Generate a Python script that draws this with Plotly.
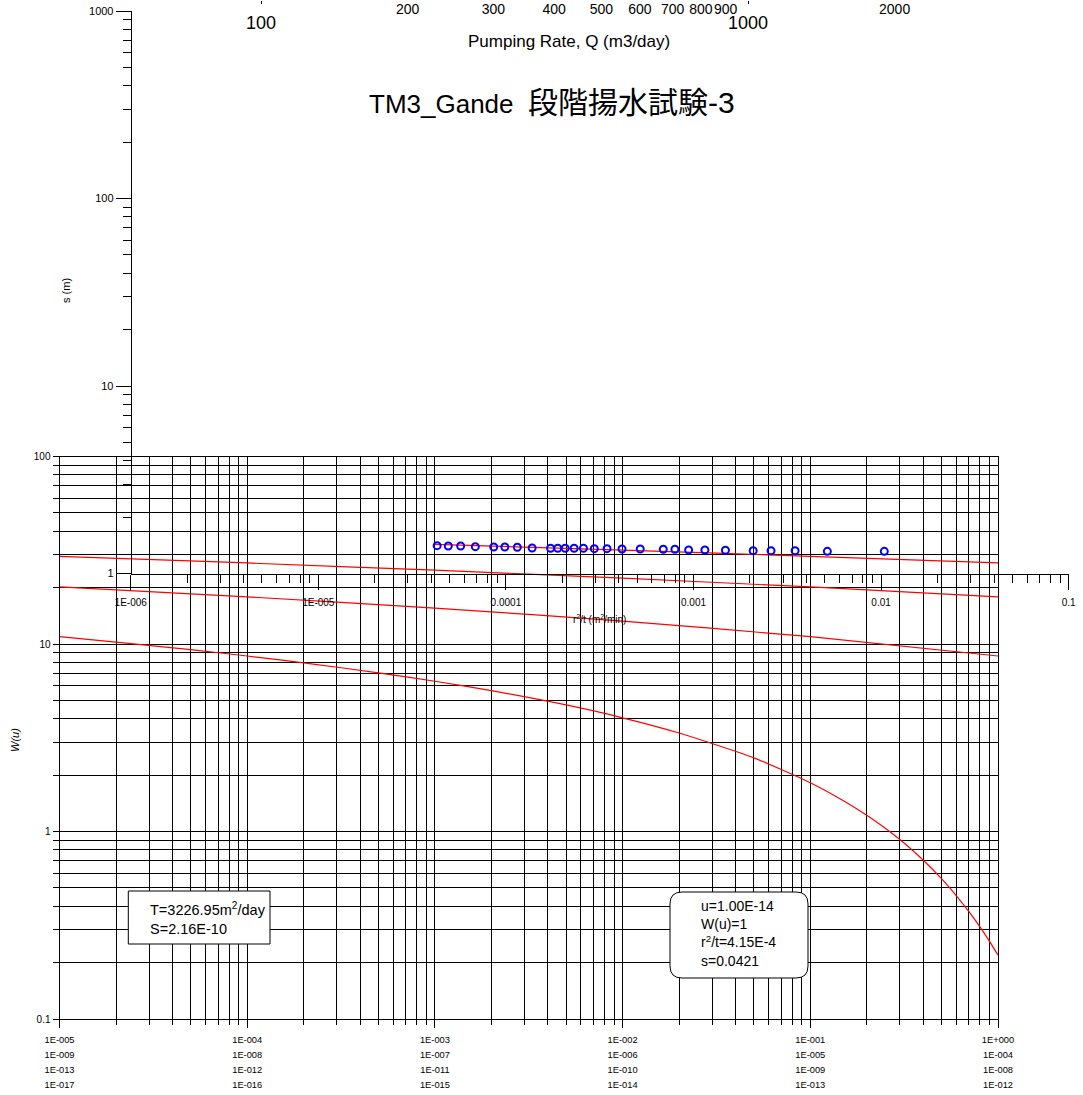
import plotly.graph_objects as go

W_PX, H_PX = 1083, 1095


def PX(p):
    return p / W_PX


def PY(p):
    return 1 - p / H_PX


# ---------------- data ----------------
# observed data: r^2/t (m^2/min) and drawdown s (m)
r2t = [4.30e-5, 4.93e-5, 5.74e-5, 6.87e-5, 8.61e-5, 9.87e-5, 1.15e-4, 1.38e-4,
       1.73e-4, 1.89e-4, 2.07e-4, 2.31e-4, 2.59e-4, 2.96e-4, 3.46e-4, 4.16e-4,
       5.20e-4, 6.90e-4, 7.96e-4, 9.42e-4, 1.15e-3, 1.48e-3, 2.08e-3, 2.59e-3,
       3.48e-3, 5.17e-3, 1.04e-2]
s_m = [1.407, 1.402, 1.402, 1.390, 1.385, 1.385, 1.380, 1.368, 1.363, 1.363,
       1.363, 1.363, 1.363, 1.357, 1.357, 1.351, 1.351, 1.346, 1.346, 1.335,
       1.335, 1.330, 1.323, 1.323, 1.323, 1.313, 1.313]

# type curve (lowest row of u labels: 1E-005 ... 1E+000)
u_curve1 = [1e-5, 2e-5, 5e-5, 1e-4, 2e-4, 5e-4, 1e-3, 2e-3, 5e-3, 1e-2, 2e-2,
            5e-2, 0.1, 0.15, 0.2, 0.3, 0.4, 0.5, 0.6, 0.7, 0.8, 0.9, 1.0]
W_curve1 = [10.94, 10.24, 9.33, 8.63, 7.94, 7.02, 6.33, 5.64, 4.73, 4.04, 3.35,
            2.47, 1.82, 1.46, 1.22, 0.906, 0.702, 0.560, 0.454, 0.374, 0.311,
            0.260, 0.219]
u_dec = [1e-5, 1e-4, 1e-3, 1e-2, 1e-1, 1.0]
W_curve2 = [20.15, 17.84, 15.54, 13.24, 10.94, 8.63]
W_curve3 = [29.36, 27.05, 24.75, 22.45, 20.15, 17.84]
u_curve4 = [1e-3, 1e-2, 1e-1, 1.0]
W_curve4 = [33.96, 31.66, 29.36, 27.05]

# tick labels
u_ticks = [1e-5, 1e-4, 1e-3, 1e-2, 1e-1, 1.0]
u_row1 = ["1E-005", "1E-004", "1E-003", "1E-002", "1E-001", "1E+000"]
u_row2 = ["1E-009", "1E-008", "1E-007", "1E-006", "1E-005", "1E-004"]
u_row3 = ["1E-013", "1E-012", "1E-011", "1E-010", "1E-009", "1E-008"]
u_row4 = ["1E-017", "1E-016", "1E-015", "1E-014", "1E-013", "1E-012"]
W_ticks = [0.1, 1, 10, 100]
W_ticktext = ["0.1", "1", "10", "100"]
r2t_ticks = [1e-6, 1e-5, 1e-4, 1e-3, 1e-2, 1e-1]
r2t_ticktext = ["1E-006", "1E-005", "0.0001", "0.001", "0.01", "0.1"]
s_ticks = [1, 10, 100, 1000]
s_ticktext = ["1", "10", "100", "1000"]
Q_minor_ticks = [200, 300, 400, 500, 600, 700, 800, 900, 2000]
Q_major_ticks = [100, 1000]

# fitted parameters
T_val = "3226.95"
S_val = "2.16E-10"
match_u = "1.00E-14"
match_W = "1"
match_r2t = "4.15E-4"
match_s = "0.0421"

title_latin = "TM3_Gande"
title_cjk = "段階揚水試験-3"

FONT = "Liberation Sans, Arial, Noto Sans CJK JP, sans-serif"


def minor_vals(lo_exp, hi_exp):
    return [m * 10 ** e for e in range(lo_exp, hi_exp) for m in range(2, 10)]


fig = go.Figure()

red = dict(color="#ff0000", width=1.2, shape="spline", smoothing=0.6)
for xs, ys in [(u_curve1, W_curve1), (u_dec, W_curve2), (u_dec, W_curve3),
               (u_curve4, W_curve4)]:
    fig.add_trace(go.Scatter(x=xs, y=ys, mode="lines", line=red,
                             xaxis="x", yaxis="y", showlegend=False,
                             hoverinfo="skip"))

# empty traces so that the label-only axes are drawn
for xa in ["x5", "x6", "x7"]:
    fig.add_trace(go.Scatter(x=[], y=[], xaxis=xa, yaxis="y", showlegend=False))
for xa in ["x3", "x4"]:
    fig.add_trace(go.Scatter(x=[], y=[], xaxis=xa, yaxis="y2", showlegend=False))

# observed data
fig.add_trace(go.Scatter(x=r2t, y=s_m, mode="markers", xaxis="x2", yaxis="y2",
                         marker=dict(symbol="circle-open", size=7,
                                     color="#0000ff",
                                     line=dict(width=2, color="#0000ff")),
                         showlegend=False))

xW_dom = [PX(59.5), PX(998)]
yW_dom = [PY(1019), PY(456.5)]

common_grid = dict(showgrid=True, gridcolor="black", gridwidth=1)
noam = dict(automargin=False, fixedrange=True, tickangle=0)

layout = dict(
    template="none",
    width=W_PX, height=H_PX, autosize=False,
    margin=dict(l=0, r=0, t=0, b=0, pad=0, autoexpand=False),
    paper_bgcolor="white", plot_bgcolor="rgba(0,0,0,0)",
    font=dict(family=FONT, color="black", size=10),
    showlegend=False,
    xaxis=dict(type="log", range=[-5, 0], domain=xW_dom, anchor="y",
               showline=True, mirror=True, linecolor="black", linewidth=1,
               ticks="outside", ticklen=8, tickcolor="black", tickwidth=1,
               tickmode="array", tickvals=u_ticks, ticktext=u_row1,
               tickfont=dict(size=9.3), ticklabelstandoff=4,
               **common_grid, zeroline=False,
               minor=dict(tickmode="array", tickvals=minor_vals(-5, 0),
                          ticks="outside", ticklen=5, tickcolor="black",
                          showgrid=True, gridcolor="black", gridwidth=1),
               **noam),
    yaxis=dict(type="log", range=[-1, 2], domain=yW_dom, anchor="x",
               showline=True, mirror=True, linecolor="black", linewidth=1,
               ticks="outside", ticklen=6, tickcolor="black", tickwidth=1,
               tickmode="array", tickvals=W_ticks, ticktext=W_ticktext,
               tickfont=dict(size=10), **common_grid, zeroline=False,
               minor=dict(tickmode="array", tickvals=minor_vals(-1, 2),
                          ticks="outside", ticklen=6, tickcolor="black",
                          showgrid=True, gridcolor="black", gridwidth=1),
               **noam),
    xaxis2=dict(type="log", range=[-6, -1], domain=[PX(130.7), PX(1068.7)],
                anchor="y2", showline=True, linecolor="black", linewidth=1,
                ticks="outside", ticklen=15, tickcolor="black", tickwidth=1,
                tickmode="array", tickvals=r2t_ticks, ticktext=r2t_ticktext,
                tickfont=dict(size=10), ticklabelstandoff=4,
                showgrid=False, zeroline=False,
                minor=dict(tickmode="array", tickvals=minor_vals(-6, -1),
                           ticks="outside", ticklen=8, tickcolor="black",
                           showgrid=False),
                title=dict(text="r<sup>2</sup>/t (m<sup>2</sup>/min)",
                           font=dict(size=10), standoff=9),
                **noam),
    yaxis2=dict(type="log", range=[0, 3], domain=[PY(573.5), PY(11)],
                anchor="free", position=PX(130.7), side="left",
                showline=True, linecolor="black", linewidth=1,
                ticks="outside", ticklen=15, tickcolor="black", tickwidth=1,
                tickmode="array", tickvals=s_ticks, ticktext=s_ticktext,
                tickfont=dict(size=11), showgrid=False, zeroline=False,
                minor=dict(tickmode="array", tickvals=minor_vals(0, 3),
                           ticks="outside", ticklen=8, tickcolor="black",
                           showgrid=False),
                **noam),
    xaxis3=dict(type="log", range=[1.46407, 3.68789], domain=[0, 1],
                anchor="free", position=1, side="bottom",
                showline=False, ticks="", showgrid=False, zeroline=False,
                tickmode="array", tickvals=Q_minor_ticks,
                ticktext=[str(v) for v in Q_minor_ticks],
                tickfont=dict(size=14), ticklabelstandoff=-1, **noam),
    xaxis4=dict(type="log", range=[1.46407, 3.68789], domain=[0, 1],
                anchor="free", position=1, side="bottom",
                showline=False, ticks="outside", ticklen=3, tickcolor="black",
                showgrid=False, zeroline=False,
                tickmode="array", tickvals=Q_major_ticks,
                ticktext=[str(v) for v in Q_major_ticks],
                tickfont=dict(size=18), ticklabelstandoff=3, **noam),
)

for i, (xa, row) in enumerate([("xaxis5", u_row2), ("xaxis6", u_row3),
                               ("xaxis7", u_row4)]):
    layout[xa] = dict(type="log", range=[-5, 0], domain=xW_dom, anchor="y",
                      overlaying="x", showline=False, ticks="", showgrid=False,
                      zeroline=False,
                      tickmode="array", tickvals=u_ticks, ticktext=row,
                      tickfont=dict(size=9.3), ticklabelstandoff=14 + 15 * (i + 1),
                      **noam)

fig.update_layout(**layout)

# boxes
fig.add_shape(type="rect", xref="paper", yref="paper",
              x0=PX(128.3), x1=PX(270), y0=PY(944), y1=PY(891),
              fillcolor="white", line=dict(color="black", width=1), layer="above")

bx0, bx1, by0, by1, r = 670, 808, 892, 978, 12
path = (f"M {PX(bx0 + r)},{PY(by0)} L {PX(bx1 - r)},{PY(by0)} "
        f"Q {PX(bx1)},{PY(by0)} {PX(bx1)},{PY(by0 + r)} "
        f"L {PX(bx1)},{PY(by1 - r)} Q {PX(bx1)},{PY(by1)} {PX(bx1 - r)},{PY(by1)} "
        f"L {PX(bx0 + r)},{PY(by1)} Q {PX(bx0)},{PY(by1)} {PX(bx0)},{PY(by1 - r)} "
        f"L {PX(bx0)},{PY(by0 + r)} Q {PX(bx0)},{PY(by0)} {PX(bx0 + r)},{PY(by0)} Z")
fig.add_shape(type="path", xref="paper", yref="paper", path=path,
              fillcolor="white", line=dict(color="black", width=1), layer="above")

title_html = (f"{title_latin}&nbsp;&nbsp;<span style='font-size:30px'>{title_cjk}</span>")

ann = [
    dict(text=title_html, x=PX(552), y=PY(102), font=dict(size=26)),
    dict(text="Pumping Rate, Q (m3/day)", x=PX(569), y=PY(42), font=dict(size=17)),
    dict(text="s (m)", x=PX(66), y=PY(291), textangle=-90, font=dict(size=11)),
    dict(text="<i>W(u)</i>", x=PX(15), y=PY(740), textangle=-90, font=dict(size=11)),
    dict(text=f"T={T_val}m<sup>2</sup>/day<br>S={S_val}", x=PX(147.7), y=PY(918),
         xanchor="left", align="left", font=dict(size=14.5)),
    dict(text=(f"u={match_u}<br>W(u)={match_W}<br>r<sup>2</sup>/t={match_r2t}"
               f"<br>s={match_s}"), x=PX(699), y=PY(933),
         xanchor="left", align="left", font=dict(size=14)),
]
for a in ann:
    base = dict(xref="paper", yref="paper", showarrow=False,
                xanchor="center", yanchor="middle")
    base.update(a)
    fig.add_annotation(**base)

fig.write_html("out.html",
               config={"displayModeBar": False},
               post_script="document.body.style.margin='0';document.body.style.overflow='hidden';")
